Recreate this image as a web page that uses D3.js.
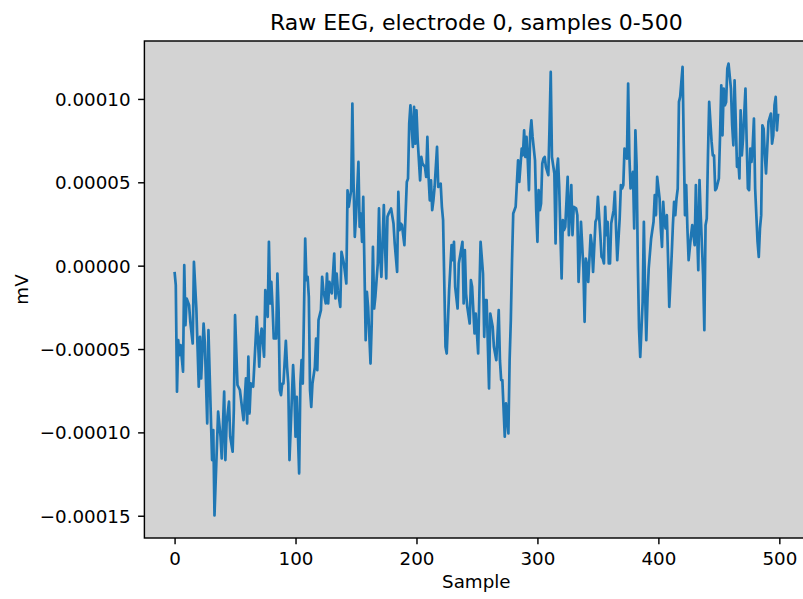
<!DOCTYPE html>
<html>
<head>
<meta charset="utf-8">
<script src="https://cdn.jsdelivr.net/npm/d3@7"></script>
<style>
  body { margin: 0; background: #fff; }
  svg { display: block; font-family: "DejaVu Sans", sans-serif; }
</style>
</head>
<body>
<div id="chart"></div>
<script>
(function() {
  var W = 803, H = 599;

  // sample index of each read vertex, and amplitude in units of 1e-5 mV
  var sampleIdx = [0,1,2,3,4,5,7,8,9,10,12,13,15,16,18,20,21,22,24,25,27,28,31,32,33,36,38,39,41,42,43,45,46,48,49,50,52,54,57,59,60,61,62,63,65,68,70,71,72,74,
    75,77,78,79,80,81,82,84,85,86,87,88,89,90,92,93,94,95,98,99,100,101,103,104,105,106,108,109,110,111,112,113,114,116,117,118,119,121,122,123,125,126,127,128,130,132,133,134,135,137,
    138,140,142,143,144,146,147,148,149,150,152,153,154,155,156,158,159,160,162,163,164,165,166,168,169,170,171,173,174,175,176,177,179,181,182,184,185,186,187,188,190,192,193,194,195,197,198,199,200,201,
    203,204,205,207,208,209,210,211,212,213,214,215,217,218,220,221,222,224,225,227,229,230,231,232,234,235,238,239,240,241,242,244,245,246,248,249,251,252,253,255,256,257,258,260,261,263,264,266,268,269,
    270,271,273,274,276,277,278,279,280,282,283,284,285,287,288,289,290,291,292,293,294,295,296,298,299,300,301,302,303,304,305,306,307,309,310,311,312,314,315,316,317,318,319,320,321,322,323,325,326,328,
    329,330,332,333,334,335,336,338,339,340,341,342,344,345,346,348,349,350,352,353,354,355,356,357,358,359,360,361,363,364,365,366,368,369,370,371,372,374,375,376,377,379,380,381,382,383,384,385,387,388,
    389,390,391,392,394,396,397,398,399,401,402,403,404,405,406,407,408,409,411,412,413,414,415,416,417,418,420,421,422,423,424,425,427,428,429,430,431,432,433,434,435,437,438,439,440,441,442,444,445,446,
    447,448,450,451,452,453,454,455,456,457,458,460,461,462,463,464,465,466,467,468,469,470,472,473,474,475,476,477,478,479,480,482,483,484,485,486,487,488,489,490,491,493,494,495,496,497,498,499];

  var ampE5 = [-0.37,-1.17,-7.56,-4.47,-5.37,-4.77,-6.36,0.03,-3.57,-1.97,-2.37,-3.37,-4.67,0.23,-2.57,-7.26,-4.27,-6.76,-3.47,-4.6,-9.46,-3.87,-11.66,-9.86,-14.98,-8.76,-10.26,-11.56,-7.56,-11.66,-9.46,-8.16,-10.26,-11.16,-8.66,-2.97,-7.16,-7.46,-9.26,-6.76,-9.46,-5.46,-8.86,-7.06,-7.26,-3.07,-6.06,-4.27,-3.77,-5.46,
    -1.47,-3.07,1.43,-2.27,-0.97,-2.47,-4.37,-4.37,-0.47,-2.67,-7.47,-7.77,-7.07,-7.07,-4.51,-6.07,-7.07,-11.66,-5.97,-7.47,-10.26,-7.87,-12.46,-7.07,-5.67,-7.07,1.63,-0.87,-0.67,-1.87,-7.47,-8.47,-7.07,-6.07,-4.37,-6.27,-3.27,-2.67,-0.67,-1.47,-2.27,-0.47,-2.27,-0.97,-1.67,0.73,-1.97,-0.47,-1.47,-2.47,
    0.83,0.13,-1.07,4.52,3.53,4.52,9.72,4.92,1.73,2.93,6.22,2.33,3.13,1.43,4.12,-4.47,-1.57,-2.47,-5.87,-3.47,1.13,-2.57,-1.87,0.13,3.43,0.53,-0.67,3.63,1.13,-0.77,2.93,3.13,3.43,2.53,1.33,-0.37,4.42,2.13,2.53,2.43,1.23,5.02,5.22,8.52,9.62,7.12,9.52,7.32,9.32,7.52,
    5.12,6.52,6.12,5.92,5.32,7.72,5.32,3.92,5.12,3.33,3.92,4.72,7.12,4.72,4.92,3.53,2.73,-4.87,-5.27,-1.47,1.23,0.33,1.43,-1.27,-2.57,0.13,1.43,-2.27,0.93,-1.67,-2.47,-3.47,-0.87,-1.27,-4.07,-2.87,-5.27,-1.67,1.43,-0.47,-4.27,-2.07,-2.07,-7.36,-2.87,-3.67,-4.87,-5.67,-2.67,-5.67,
    -6.86,-6.86,-10.26,-8.26,-10.06,-5.67,-3.27,0.33,3.13,3.53,4.93,6.32,5.03,7.02,6.62,8.12,6.52,7.72,6.32,4.53,7.92,8.72,7.72,6.32,3.33,1.43,4.53,3.33,3.73,6.12,6.42,6.52,5.93,5.43,8.32,11.62,6.52,5.53,1.33,5.73,6.42,4.73,1.93,-0.77,2.73,2.13,2.33,5.33,1.83,4.83,
    1.83,3.53,3.43,3.03,-0.97,0.63,2.63,-0.17,-3.37,0.43,0.03,-0.97,1.83,1.23,-0.37,2.63,2.83,4.13,1.83,0.53,0.43,0.13,3.53,1.83,2.63,0.13,0.13,2.53,3.33,4.43,2.23,0.33,2.83,4.83,4.63,4.83,7.02,6.42,10.92,6.62,4.63,5.63,2.23,8.12,6.03,0.23,-3.77,-5.47,-2.17,2.63,
    -1.57,-4.47,-1.97,-0.17,1.63,2.63,4.23,3.03,5.33,4.03,2.23,1.13,3.83,2.63,2.23,3.03,0.43,-2.47,0.63,2.43,3.83,3.03,4.03,4.63,9.82,10.12,11.92,7.22,3.03,4.83,2.23,0.33,1.83,2.43,1.83,1.23,4.83,2.03,-0.27,5.13,3.03,-0.57,-3.87,2.43,2.83,6.62,9.82,7.42,6.62,6.62,
    4.53,4.63,5.23,7.82,10.82,7.82,10.62,9.62,9.82,11.82,12.12,10.62,8.42,7.22,11.12,8.62,5.93,6.42,5.23,9.32,6.62,7.62,10.62,7.42,4.63,4.53,7.02,6.22,7.22,8.82,4.63,1.43,0.53,2.23,3.03,8.42,8.22,6.62,5.53,7.02,8.62,9.12,7.32,7.82,9.62,10.12,8.12,9.12];

  var xTicks = [0, 100, 200, 300, 400, 500];
  var yTicks = [-0.00015, -0.00010, -0.00005, 0, 0.00005, 0.00010];
  var titleText = "Raw EEG, electrode 0, samples 0-500";
  var xLabel = "Sample", yLabel = "mV";

  var data = sampleIdx.map(function(s, i) {
    return { x: s, y: ampE5[i] * 1e-5 };
  });

  // axes box (right edge falls outside the picture)
  var left = 144.4, right = 808.3, top = 41, bottom = 538;

  var xExt = d3.extent(data, function(d) { return d.x; });
  var yExt = d3.extent(data, function(d) { return d.y; });
  var xPad = (xExt[1] - xExt[0]) * 0.05, yPad = (yExt[1] - yExt[0]) * 0.05;

  var x = d3.scaleLinear().domain([xExt[0] - xPad, xExt[1] + xPad]).range([left, right]);
  var y = d3.scaleLinear().domain([yExt[0] - yPad, yExt[1] + yPad]).range([bottom, top]);

  var svg = d3.select("#chart").append("svg")
    .attr("width", W).attr("height", H);

  svg.append("rect").attr("width", W).attr("height", H).attr("fill", "#fff");

  svg.append("rect")
    .attr("x", left).attr("y", top)
    .attr("width", right - left).attr("height", bottom - top)
    .attr("fill", "#d3d3d3");

  svg.append("clipPath").attr("id", "plotclip")
    .append("rect")
    .attr("x", left).attr("y", top)
    .attr("width", right - left).attr("height", bottom - top);

  var line = d3.line()
    .x(function(d) { return x(d.x); })
    .y(function(d) { return y(d.y); });

  svg.append("path")
    .datum(data)
    .attr("clip-path", "url(#plotclip)")
    .attr("fill", "none")
    .attr("stroke", "#1f77b4")
    .attr("stroke-width", 2.7)
    .attr("stroke-linejoin", "round")
    .attr("d", line);

  // spines
  svg.append("rect")
    .attr("x", left).attr("y", top)
    .attr("width", right - left).attr("height", bottom - top)
    .attr("fill", "none")
    .attr("stroke", "#000")
    .attr("stroke-width", 1.44);

  var xAxis = d3.axisBottom(x).tickValues(xTicks).tickSize(6.3).tickPadding(6.3)
    .tickFormat(d3.format("d"));
  var yAxis = d3.axisLeft(y).tickValues(yTicks).tickSize(6.3).tickPadding(7.5)
    .tickFormat(d3.format(".5f"));

  var gx = svg.append("g").attr("transform", "translate(0," + bottom + ")").call(xAxis);
  var gy = svg.append("g").attr("transform", "translate(" + left + ",0)").call(yAxis);

  [gx, gy].forEach(function(g) {
    g.select(".domain").remove();
    g.selectAll(".tick line").attr("stroke", "#000").attr("stroke-width", 1.44);
    g.selectAll(".tick text")
      .attr("fill", "#000")
      .style("font-family", "'DejaVu Sans', sans-serif")
      .style("font-size", "18.3px");
  });
  gx.selectAll(".tick text").attr("dy", null).attr("y", 27);
  gy.selectAll(".tick text").attr("dy", "0.36em");

  svg.append("text")
    .attr("x", (left + right) / 2).attr("y", 30)
    .attr("text-anchor", "middle")
    .style("font-size", "22px")
    .text(titleText);

  svg.append("text")
    .attr("x", (left + right) / 2).attr("y", 588)
    .attr("text-anchor", "middle")
    .style("font-size", "18.3px")
    .text(xLabel);

  svg.append("text")
    .attr("transform", "translate(28," + ((top + bottom) / 2) + ") rotate(-90)")
    .attr("text-anchor", "middle")
    .style("font-size", "18.3px")
    .text(yLabel);
})();
</script>
</body>
</html>
